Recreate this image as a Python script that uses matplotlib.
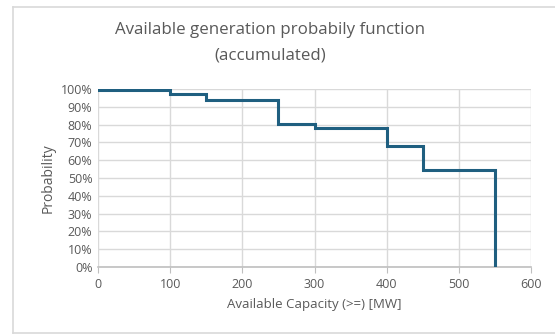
import matplotlib.pyplot as plt
from matplotlib.lines import Line2D
from matplotlib.ticker import PercentFormatter

# step points of the accumulated probability curve
capacity = [0, 100, 150, 250, 300, 400, 450, 550, 550]
probability = [99.5, 97.2, 93.8, 80.5, 77.9, 68.1, 54.7, 54.7, 0]

x_ticks = [0, 100, 200, 300, 400, 500, 600]
y_ticks = [0, 10, 20, 30, 40, 50, 60, 70, 80, 90, 100]

plt.rcParams['font.family'] = ['Open Sans', 'DejaVu Sans']
text_color = '#595959'
line_color = '#1f5f80'
frame_color = '#d9d9d9'

fig = plt.figure(figsize=(5.55, 3.35), dpi=100)
fig.patch.set_facecolor('white')

# chart area frame: left, top and bottom edges (right edge is off the image)
x0, y_top, y_bot = 12.5 / 555, 1 - 6.5 / 335, 1 - 333 / 335
for xs, ys in [([x0, x0], [y_bot, y_top]), ([x0, 1.0], [y_top, y_top]),
               ([x0, 1.0], [y_bot, y_bot])]:
    fig.add_artist(Line2D(xs, ys, transform=fig.transFigure,
                          color=frame_color, linewidth=1.2))

ax = fig.add_axes([98 / 555, 1 - 267 / 335, 433 / 555, 178 / 335])
ax.step(capacity, probability, where='post', color=line_color, linewidth=2.2,
        solid_joinstyle='miter', zorder=3)

ax.set_xlim(0, 600)
ax.set_ylim(0, 100)
ax.set_xticks(x_ticks)
ax.set_yticks(y_ticks)
ax.yaxis.set_major_formatter(PercentFormatter(decimals=0))

ax.grid(True, color='#d9d9d9', linewidth=1.0)
ax.set_axisbelow(True)
for side in ['top', 'right', 'left']:
    ax.spines[side].set_visible(False)
ax.spines['bottom'].set_color('#bfbfbf')
ax.spines['bottom'].set_linewidth(1.2)

ax.tick_params(axis='x', direction='out', length=4, color='#bfbfbf',
               labelsize=9, labelcolor=text_color, pad=4)
ax.tick_params(axis='y', length=0, labelsize=9, labelcolor=text_color, pad=4)

ax.set_xlabel('Available Capacity (>=) [MW]', fontsize=9.5, color=text_color,
              labelpad=5)
ax.set_ylabel('Probability', fontsize=10, color=text_color, labelpad=4)

fig.text(270 / 555, 1 - 43 / 335,
         'Available generation probabily function\n(accumulated)',
         ha='center', va='center', fontsize=12.2, color=text_color,
         linespacing=1.8)

plt.savefig('out.png', dpi=100)
